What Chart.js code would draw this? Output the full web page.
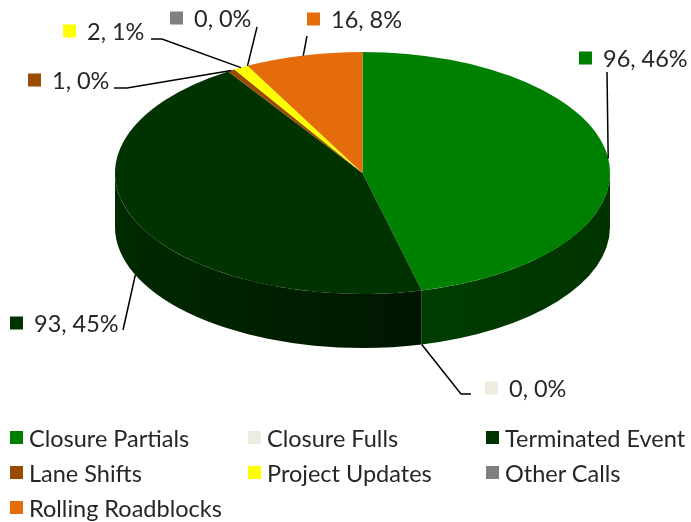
<!DOCTYPE html>
<html>
<head>
<meta charset="utf-8">
<script src="https://cdn.jsdelivr.net/npm/chart.js@4/dist/chart.umd.min.js"></script>
<style>
  body { margin: 0; background: #fff; }
  #wrap { position: relative; width: 691px; height: 522px; }
  #legend { position: absolute; left: 0; top: 0; width: 691px; height: 522px; pointer-events: none;
            font-family: Lato, "Liberation Sans", sans-serif; font-size: 23.5px; color: #262626; }
  .item { position: absolute; white-space: nowrap; line-height: 24px; }
  .item span.box { position: absolute; left: 0; top: 5px; width: 13px; height: 13px; }
  .item span.txt { position: absolute; left: 19px; top: 0; }
</style>
</head>
<body>
<div id="wrap">
  <canvas id="pieChart" width="691" height="522"></canvas>
  <div id="legend"></div>
</div>
<script>
const categories = ["Closure Partials", "Closure Fulls", "Terminated Event", "Lane Shifts",
                    "Project Updates", "Other Calls", "Rolling Roadblocks"];
const counts = [96, 0, 93, 1, 2, 0, 16];

const topColors = ["#008000", "#EEECE1", "#003300", "#994C00", "#FFFF00", "#808080", "#E46C0A"];
// side colours (left, right) for the 3d wall
const sideColors = [["#003d00", "#003300"], ["#b0aea5", "#a09e96"], ["#002a00", "#001600"],
                    ["#5a2d00", "#4a2500"], ["#a0a000", "#909000"], ["#505050", "#404040"], ["#8a4006", "#7a3805"]];

// where the ellipse sits on the page
const geo = { cx: 362.5, cy: 173, rx: 247.5, ry: 121, depth: 54 };

// label boxes and leader line bends
const labelLayout = [
  { x: 579, y: 58, line: [[607, 72]] },
  { x: 485, y: 388, line: [[471, 394], [461, 394]] },
  { x: 10, y: 323, line: [[123, 330]] },
  { x: 28, y: 80, line: [[114, 88], [127, 88]] },
  { x: 63, y: 31, line: [[151, 39], [162, 39]] },
  { x: 170, y: 18, line: [[257, 27]] },
  { x: 307, y: 19, line: [[307, 36]] },
];

const legendCols = [10, 248, 486];
const legendRows = [426, 461, 496];

const total = counts.reduce((a, b) => a + b, 0);

function fitTransform(ctx, a) {
  const r = a.outerRadius;
  ctx.translate(geo.cx, geo.cy);
  ctx.scale(geo.rx / r, geo.ry / r);
  ctx.translate(-a.x, -a.y);
}

const pie3d = {
  id: "pie3d",
  beforeDatasetsDraw(chart) {
    const ctx = chart.ctx;
    const arcs = chart.getDatasetMeta(0).data;
    // front wall
    arcs.forEach((a, i) => {
      const s = Math.max(a.startAngle, 0);
      const e = Math.min(a.endAngle, Math.PI);
      if (e <= s) return;
      const x1 = geo.cx + geo.rx * Math.cos(s);
      const x2 = geo.cx + geo.rx * Math.cos(e);
      const grad = ctx.createLinearGradient(Math.min(x1, x2), 0, Math.max(x1, x2), 0);
      grad.addColorStop(0, sideColors[i][0]);
      grad.addColorStop(1, sideColors[i][1]);
      ctx.save();
      ctx.beginPath();
      ctx.ellipse(geo.cx, geo.cy, geo.rx, geo.ry, 0, s, e);
      ctx.ellipse(geo.cx, geo.cy + geo.depth, geo.rx, geo.ry, 0, e, s, true);
      ctx.closePath();
      ctx.fillStyle = grad;
      ctx.fill();
      ctx.restore();
    });
    ctx.save();
    fitTransform(ctx, arcs[0]);
  },
  afterDatasetsDraw(chart) {
    const ctx = chart.ctx;
    ctx.restore();
    const arcs = chart.getDatasetMeta(0).data;
    ctx.save();
    ctx.font = "23.5px Lato, 'Liberation Sans', sans-serif";
    ctx.textBaseline = "middle";
    arcs.forEach((a, i) => {
      const m = (a.startAngle + a.endAngle) / 2;
      let px = geo.cx + geo.rx * Math.cos(m);
      let py = geo.cy + geo.ry * Math.sin(m);
      if (Math.sin(m) > 0.05) py += geo.depth;
      const L = labelLayout[i];
      ctx.strokeStyle = "#000";
      ctx.lineWidth = 1.5;
      ctx.beginPath();
      L.line.forEach((p, k) => (k ? ctx.lineTo(p[0], p[1]) : ctx.moveTo(p[0], p[1])));
      ctx.lineTo(px, py);
      ctx.stroke();
      ctx.fillStyle = topColors[i];
      ctx.fillRect(L.x, L.y - 6.5, 13, 13);
      ctx.fillStyle = "#262626";
      const pct = Math.round((counts[i] / total) * 100);
      ctx.fillText(counts[i] + ", " + pct + "%", L.x + 24, L.y + 1);
    });
    ctx.restore();
  },
};

new Chart(document.getElementById("pieChart"), {
  type: "pie",
  data: {
    labels: categories,
    datasets: [
      {
        data: counts,
        backgroundColor: topColors,
        borderWidth: 0,
      },
    ],
  },
  options: {
    responsive: false,
    animation: false,
    events: [],
    layout: { padding: 0 },
    plugins: {
      legend: { display: false },
      tooltip: { enabled: false },
    },
  },
  plugins: [pie3d],
});

// legend, 3 columns
const legend = document.getElementById("legend");
categories.forEach((name, i) => {
  const d = document.createElement("div");
  d.className = "item";
  d.style.left = legendCols[i % 3] + "px";
  d.style.top = legendRows[Math.floor(i / 3)] + "px";
  d.innerHTML = '<span class="box" style="background:' + topColors[i] + '"></span><span class="txt">' + name + "</span>";
  legend.appendChild(d);
});
</script>
</body>
</html>
